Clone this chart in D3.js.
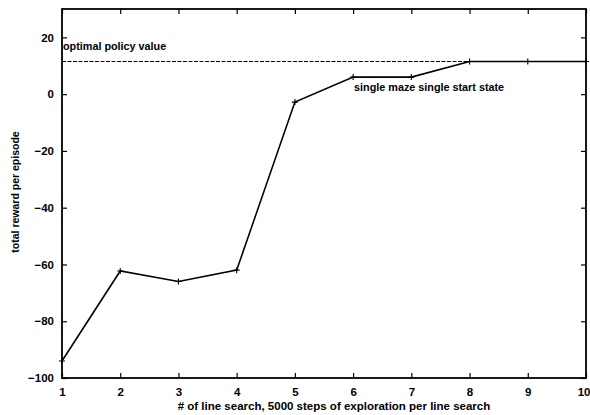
<!DOCTYPE html>
<html>
<head>
<meta charset="utf-8">
<script src="https://cdn.jsdelivr.net/npm/d3@7"></script>
<style>
  html, body { margin: 0; padding: 0; background: #fff; }
  svg text { font-family: "Liberation Sans", Arial, sans-serif; font-weight: bold; fill: #000; }
</style>
</head>
<body>
<svg id="chart" width="590" height="415"></svg>
<script>
// Line searches and the reward reached after each one
const searches = [1, 2, 3, 4, 5, 6, 7, 8, 9, 10];
const rewards = [-94, -62.3, -66, -62, -2.8, 6, 6, 11.5, 11.5, 11.5];
const optimalValue = 11.5;
const xTicks = [1, 2, 3, 4, 5, 6, 7, 8, 9, 10];
const yTicks = [-100, -80, -60, -40, -20, 0, 20];

const svg = d3.select("#chart");
const m = { left: 62, right: 4, top: 9, bottom: 37 };
const W = 590, H = 415;

const x = d3.scaleLinear().domain([1, 10]).range([m.left, W - m.right]);
const y = d3.scaleLinear().domain([-100, 30]).range([H - m.bottom, m.top]);

const tickLen = 5;

// Bottom axis: labels below, ticks pointing into the plot
const axBottom = svg.append("g").attr("transform", `translate(0,${y(-100)})`)
  .call(d3.axisBottom(x).tickValues(xTicks).tickFormat(d3.format("d")).tickSize(-tickLen).tickPadding(10));
// Left axis
const axLeft = svg.append("g").attr("transform", `translate(${x(1)},0)`)
  .call(d3.axisLeft(y).tickValues(yTicks).tickFormat(d3.format("d")).tickSize(-tickLen).tickPadding(8));
// Top and right axes: ticks only
const axTop = svg.append("g").attr("transform", `translate(0,${y(30)})`)
  .call(d3.axisTop(x).tickValues(xTicks).tickSize(-tickLen).tickFormat(""));
const axRight = svg.append("g").attr("transform", `translate(${x(10)},0)`)
  .call(d3.axisRight(y).tickValues(yTicks).tickSize(-tickLen).tickFormat(""));

[axBottom, axLeft, axTop, axRight].forEach(g => {
  g.select(".domain").remove();
  g.selectAll(".tick line").attr("stroke", "#000").attr("stroke-width", 1.2);
  g.selectAll("text").attr("font-size", 11.5).attr("font-family", "Liberation Sans, Arial, sans-serif").attr("font-weight", "bold");
});

// Keep the last x label inside the page edge
axBottom.selectAll(".tick").filter(d => d === 10).select("text")
  .attr("text-anchor", "end").attr("x", 4);

// Frame
svg.append("rect")
  .attr("x", x(1)).attr("y", y(30))
  .attr("width", x(10) - x(1)).attr("height", y(-100) - y(30))
  .attr("fill", "none").attr("stroke", "#000").attr("stroke-width", 1.8);

// Optimal policy reference line
svg.append("line")
  .attr("x1", x(1)).attr("x2", x(10))
  .attr("y1", y(optimalValue)).attr("y2", y(optimalValue))
  .attr("stroke", "#000").attr("stroke-width", 1.1)
  .attr("stroke-dasharray", "4,1.5");

svg.append("text")
  .attr("x", x(1) + 1).attr("y", y(optimalValue) - 12)
  .attr("font-size", 10.8)
  .text("optimal policy value");

// Reward curve
const data = searches.map((s, i) => ({ s, r: rewards[i] }));
const line = d3.line().x(d => x(d.s)).y(d => y(d.r));
svg.append("path").datum(data)
  .attr("d", line)
  .attr("fill", "none").attr("stroke", "#000").attr("stroke-width", 1.6);

// Point markers
const mk = 3;
svg.append("g").selectAll("path").data(data).join("path")
  .attr("d", d => `M${x(d.s) - mk},${y(d.r)}h${2 * mk}M${x(d.s)},${y(d.r) - mk}v${2 * mk}`)
  .attr("stroke", "#000").attr("stroke-width", 1.1);

svg.append("text")
  .attr("x", x(6) + 1).attr("y", y(6) + 14)
  .attr("font-size", 10.8)
  .text("single maze single start state");

// Axis titles
svg.append("text")
  .attr("x", 334).attr("y", 410)
  .attr("text-anchor", "middle").attr("font-size", 11.5)
  .text("# of line search, 5000 steps of exploration per line search");

svg.append("text")
  .attr("transform", `translate(19,${192}) rotate(-90)`)
  .attr("text-anchor", "middle").attr("font-size", 10.5)
  .text("total reward per episode");
</script>
</body>
</html>
